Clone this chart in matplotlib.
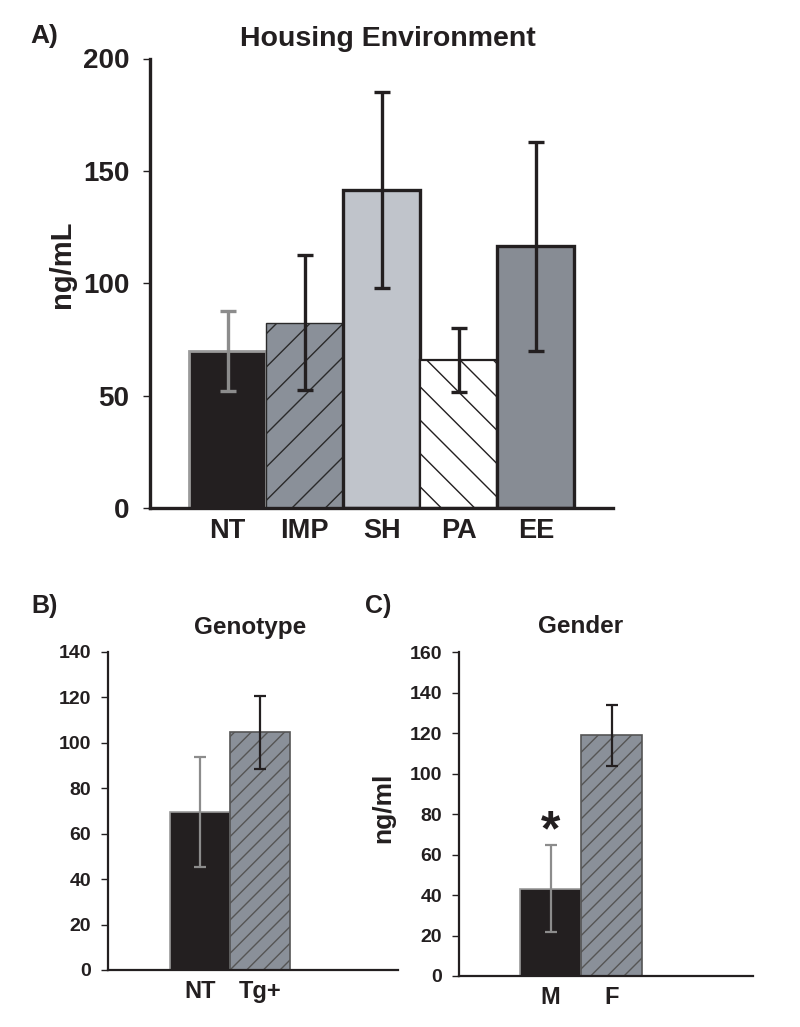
import matplotlib
matplotlib.use("Agg")
import matplotlib.pyplot as plt

# ---- data ----
housing_labels = ["NT", "IMP", "SH", "PA", "EE"]
housing_means = [69.8, 82.4, 141.4, 65.8, 116.4]
housing_err = [17.8, 30.0, 43.7, 14.3, 46.4]

geno_labels = ["NT", "Tg+"]
geno_means = [69.6, 104.5]
geno_err = [24.2, 16.0]

gender_labels = ["M", "F"]
gender_means = [43.2, 119.0]
gender_err = [21.4, 15.0]

W, H = 800, 1027
fig = plt.figure(figsize=(8, 10.27), dpi=100)
plt.rcParams["hatch.linewidth"] = 1.0

sans = ["Liberation Sans", "DejaVu Sans"]
ink = "#231f20"


def fx(px):
    return px / W


def fy(py):
    return 1 - py / H


def style_axes(ax, lw):
    ax.spines["top"].set_visible(False)
    ax.spines["right"].set_visible(False)
    for side in ("left", "bottom"):
        ax.spines[side].set_linewidth(lw)
        ax.spines[side].set_color(ink)
    ax.tick_params(axis="x", length=0)
    ax.tick_params(axis="y", direction="out", length=5, width=1, color=ink)


def style_labels(labels, size):
    for lab in labels:
        lab.set_family(sans)
        lab.set_fontweight("bold")
        lab.set_fontsize(size)
        lab.set_color(ink)


# -------------------------------
# A) Housing environment
# -------------------------------
axA = fig.add_axes([fx(150.4), fy(508), fx(613 - 150.4), (508 - 58.5) / H])
xA = [1, 2, 3, 4, 5]
faces = [ink, "#8a9099", "#c0c4cb", "white", "#878c94"]
edges = ["#9a9a9a", "#2a2a2a", ink, ink, ink]
ewidths = [2.0, 1.0, 2.4, 1.6, 2.4]
hatches = [None, "/", None, "\\", None]
ecols = ["#8c8c8c", ink, ink, ink, ink]
for i in range(5):
    axA.bar(xA[i], housing_means[i], width=1.0, color=faces[i],
            edgecolor=edges[i], linewidth=ewidths[i], hatch=hatches[i], zorder=2)
    axA.errorbar(xA[i], housing_means[i], yerr=housing_err[i], fmt="none",
                 ecolor=ecols[i], elinewidth=2.4, capsize=6, capthick=2.4, zorder=3)
axA.set_xlim(0, 6.0)
axA.set_ylim(0, 200)
axA.set_yticks([0, 50, 100, 150, 200])
axA.set_xticks(xA)
axA.set_xticklabels(housing_labels)
style_axes(axA, 2.4)
style_labels(axA.get_yticklabels(), 20)
style_labels(axA.get_xticklabels(), 19.5)
axA.tick_params(axis="y", pad=10)
axA.tick_params(axis="x", pad=7)

fig.text(fx(30), fy(43), "A)", family=sans, fontweight="bold", fontsize=19,
         color=ink, ha="left", va="baseline")
fig.text(fx(388), fy(46.5), "Housing Environment", family=sans, fontweight="bold",
         fontsize=20.5, color=ink, ha="center", va="baseline")
fig.text(fx(62), fy(264), "ng/mL", family=sans, fontweight="bold", fontsize=21,
         color=ink, ha="center", va="center", rotation=90)

# -------------------------------
# B) Genotype
# -------------------------------
axB = fig.add_axes([fx(108), fy(970), fx(398 - 108), (970 - 651.7) / H])
xB = [1.53, 2.53]
bfaces = [ink, "#8a9099"]
bedges = ["#9a9a9a", "#555555"]
bhatch = [None, "//"]
becol = ["#8c8c8c", ink]
for i in range(2):
    axB.bar(xB[i], geno_means[i], width=1.0, color=bfaces[i], edgecolor=bedges[i],
            linewidth=1.2, hatch=bhatch[i], zorder=2)
    axB.errorbar(xB[i], geno_means[i], yerr=geno_err[i], fmt="none", ecolor=becol[i],
                 elinewidth=1.6, capsize=4.5, capthick=1.6, zorder=3)
axB.set_xlim(0, 4.83)
axB.set_ylim(0, 140)
axB.set_yticks(range(0, 141, 20))
axB.set_xticks(xB)
axB.set_xticklabels(geno_labels)
style_axes(axB, 1.6)

# -------------------------------
# C) Gender
# -------------------------------
axC = fig.add_axes([fx(459), fy(976), fx(752.7 - 459), (976 - 652.3) / H])
xC = [1.5, 2.5]
for i in range(2):
    axC.bar(xC[i], gender_means[i], width=1.0, color=bfaces[i], edgecolor=bedges[i],
            linewidth=1.2, hatch=bhatch[i], zorder=2)
    axC.errorbar(xC[i], gender_means[i], yerr=gender_err[i], fmt="none", ecolor=becol[i],
                 elinewidth=1.6, capsize=4.5, capthick=1.6, zorder=3)
axC.set_xlim(0, 4.81)
axC.set_ylim(0, 160)
axC.set_yticks(range(0, 161, 20))
axC.set_xticks(xC)
axC.set_xticklabels(gender_labels)
style_axes(axC, 1.6)
axC.text(xC[0], 71, "*", family=sans, fontweight="bold", fontsize=36,
         color=ink, ha="center", va="center")

for ax in (axB, axC):
    style_labels(ax.get_yticklabels(), 14)
    style_labels(ax.get_xticklabels(), 17)
    ax.tick_params(axis="y", pad=7)
    ax.tick_params(axis="x", pad=7)

fig.text(fx(31), fy(613), "B)", family=sans, fontweight="bold", fontsize=18,
         color=ink, ha="left", va="baseline")
fig.text(fx(365), fy(613), "C)", family=sans, fontweight="bold", fontsize=18,
         color=ink, ha="left", va="baseline")
fig.text(fx(250), fy(634), "Genotype", family=sans, fontweight="bold", fontsize=17.5,
         color=ink, ha="center", va="baseline")
fig.text(fx(581), fy(633), "Gender", family=sans, fontweight="bold", fontsize=17.5,
         color=ink, ha="center", va="baseline")
fig.text(fx(383), fy(808), "ng/ml", family=sans, fontweight="bold", fontsize=19,
         color=ink, ha="center", va="center", rotation=90)

fig.savefig("out.png", dpi=100)
